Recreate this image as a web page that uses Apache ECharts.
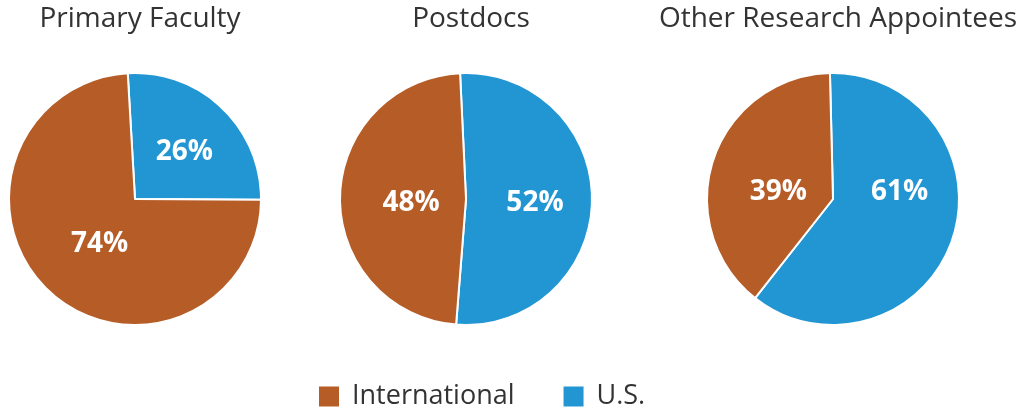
<!DOCTYPE html>
<html>
<head>
<meta charset="utf-8">
<script src="https://cdn.jsdelivr.net/npm/echarts@6/dist/echarts.min.js"></script>
<style>html,body{margin:0;padding:0;background:#fff}#c{width:1016px;height:413px}</style>
</head>
<body>
<div id="c"></div>
<script>
const categories = ['International', 'U.S.'];
const groups = ['Primary Faculty', 'Postdocs', 'Other Research Appointees'];
const international = [74, 48, 39];
const us = [26, 52, 61];

const colors = { 'International': '#B65C27', 'U.S.': '#2196D3' };
const centersX = [135, 466, 833];
const startAngles = [93.3, 92.7, 91.4];
// small label nudges (style only) to mimic the original label placement
const usLabelOffsets = [[4, 1], [3, 3], [4, -28]];
const intlLabelOffsets = [[10, -3], [11, 5], [8, 14]];
const fontFamily = '"Open Sans", "Noto Sans", sans-serif';

const chart = echarts.init(document.getElementById('c'), null, { renderer: 'canvas' });

const titles = groups.map((g, i) => ({
  text: g,
  left: centersX[i],
  top: 0,
  textAlign: 'center',
  textStyle: { fontFamily, fontSize: 28, fontWeight: 'normal', color: '#333' }
}));

const series = groups.map((g, i) => ({
  type: 'pie',
  name: g,
  center: [centersX[i], 199],
  radius: [0, 126],
  startAngle: startAngles[i],
  clockwise: true,
  silent: true,
  animation: false,
  itemStyle: { borderColor: '#fff', borderWidth: 2 },
  label: {
    show: true,
    position: 'inside',
    formatter: '{c}%',
    color: '#fff',
    fontFamily,
    fontSize: 28,
    fontWeight: 'bold'
  },
  labelLine: { show: false },
  data: [
    { name: categories[1], value: us[i], itemStyle: { color: colors[categories[1]] }, label: { offset: usLabelOffsets[i] } },
    { name: categories[0], value: international[i], itemStyle: { color: colors[categories[0]] }, label: { offset: intlLabelOffsets[i] } }
  ]
}));

chart.setOption({
  backgroundColor: '#fff',
  animation: false,
  title: titles,
  legend: {
    data: categories,
    left: 312,
    top: 378,
    itemWidth: 22,
    itemHeight: 22,
    itemGap: 47,
    icon: 'rect',
    textStyle: { fontFamily, fontSize: 27, color: '#333', padding: [0, 0, 0, 7] }
  },
  series
});
</script>
</body>
</html>
